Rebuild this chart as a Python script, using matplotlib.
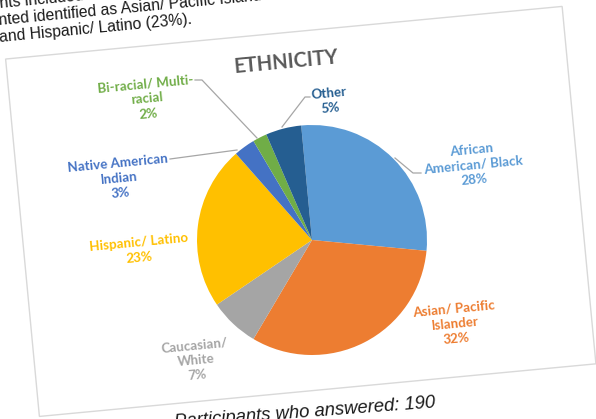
import matplotlib
matplotlib.use('Agg')
import matplotlib.pyplot as plt
from matplotlib.transforms import Affine2D
from matplotlib.patches import Rectangle

# --- chart data (Excel order, clockwise from 12 o'clock) ---
categories = ['African\nAmerican/ Black', 'Asian/ Pacific\nIslander', 'Caucasian/\nWhite',
              'Hispanic/ Latino', 'Native American\nIndian', 'Bi-racial/ Multi-\nracial', 'Other']
shares = [28, 32, 7, 23, 3, 2, 5]
colors = ['#5B9BD5', '#ED7D31', '#A5A5A5', '#FFC000', '#4472C4', '#70AD47', '#255E91']
title = 'ETHNICITY'
answered = 190

# --- layout (figure pixels, y up); the photographed page is tilted ---
W, H = 596, 419
tilt = 5.4
pie_c = (312, 179)
pie_r = 115
label_xy = [(473, 254), (455, 95), (196, 59), (139, 169), (119, 241), (147, 320), (330, 318)]
leaders = [[(395, 261), (413, 246), (421, 246)], None, None, None,
           [(170, 260), (237, 269)],
           [(195, 339), (202, 339), (257, 281)],
           [(310, 322), (305, 322), (282, 292)]]

fig = plt.figure(figsize=(W / 100, H / 100), dpi=100)
ax = fig.add_axes([0, 0, 1, 1])

rot = Affine2D().rotate_deg_around(pie_c[0], pie_c[1], tilt)

wedges, _ = ax.pie(shares, colors=colors, startangle=90, counterclock=False,
                   center=pie_c, radius=pie_r, wedgeprops=dict(linewidth=0))
for w in wedges:
    w.set_transform(rot + ax.transData)

# chart frame on the page
frame = Rectangle((24, 29), 559, 359, fill=False, edgecolor='#D9D9D9', lw=1.0)
frame.set_transform(rot + ax.transData)
ax.add_patch(frame)

for cat, val, col, (x, y), ld in zip(categories, shares, colors, label_xy, leaders):
    ax.text(x, y, cat + '\n%d%%' % val, color=col, fontsize=9.6, fontweight='bold',
            family='Lato', ha='center', va='center', multialignment='center',
            linespacing=1.3, rotation=tilt, rotation_mode='anchor')
    if ld:
        xs, ys = zip(*ld)
        ax.plot(xs, ys, color='#A6A6A6', lw=0.9)

ax.text(286, 357, title, fontsize=14.5, fontweight='bold', family='Lato', color='#595959',
        ha='center', va='center', rotation=tilt, rotation_mode='anchor')

# surrounding report text (cropped in the photo)
body = dict(family='Liberation Sans', fontsize=11.3, color='#1a1a1a', ha='left', va='baseline',
            rotation=tilt, rotation_mode='anchor')
ax.text(0, 411, 'nts included', **body)
ax.text(-1, 394, 'nted identified as Asian/ Pacific Islander', **body)
ax.text(0, 377, 'and Hispanic/ Latino (23%).', **body)
ax.text(436, 12, 'Participants who answered: %d' % answered, family='Liberation Sans',
        fontsize=13.3, style='italic', color='#1a1a1a', ha='right', va='baseline',
        rotation=4.3, rotation_mode='anchor')

ax.set_xlim(0, W)
ax.set_ylim(0, H)
ax.set_aspect('auto')
ax.axis('off')

fig.savefig('out.png', dpi=100, facecolor='white')
